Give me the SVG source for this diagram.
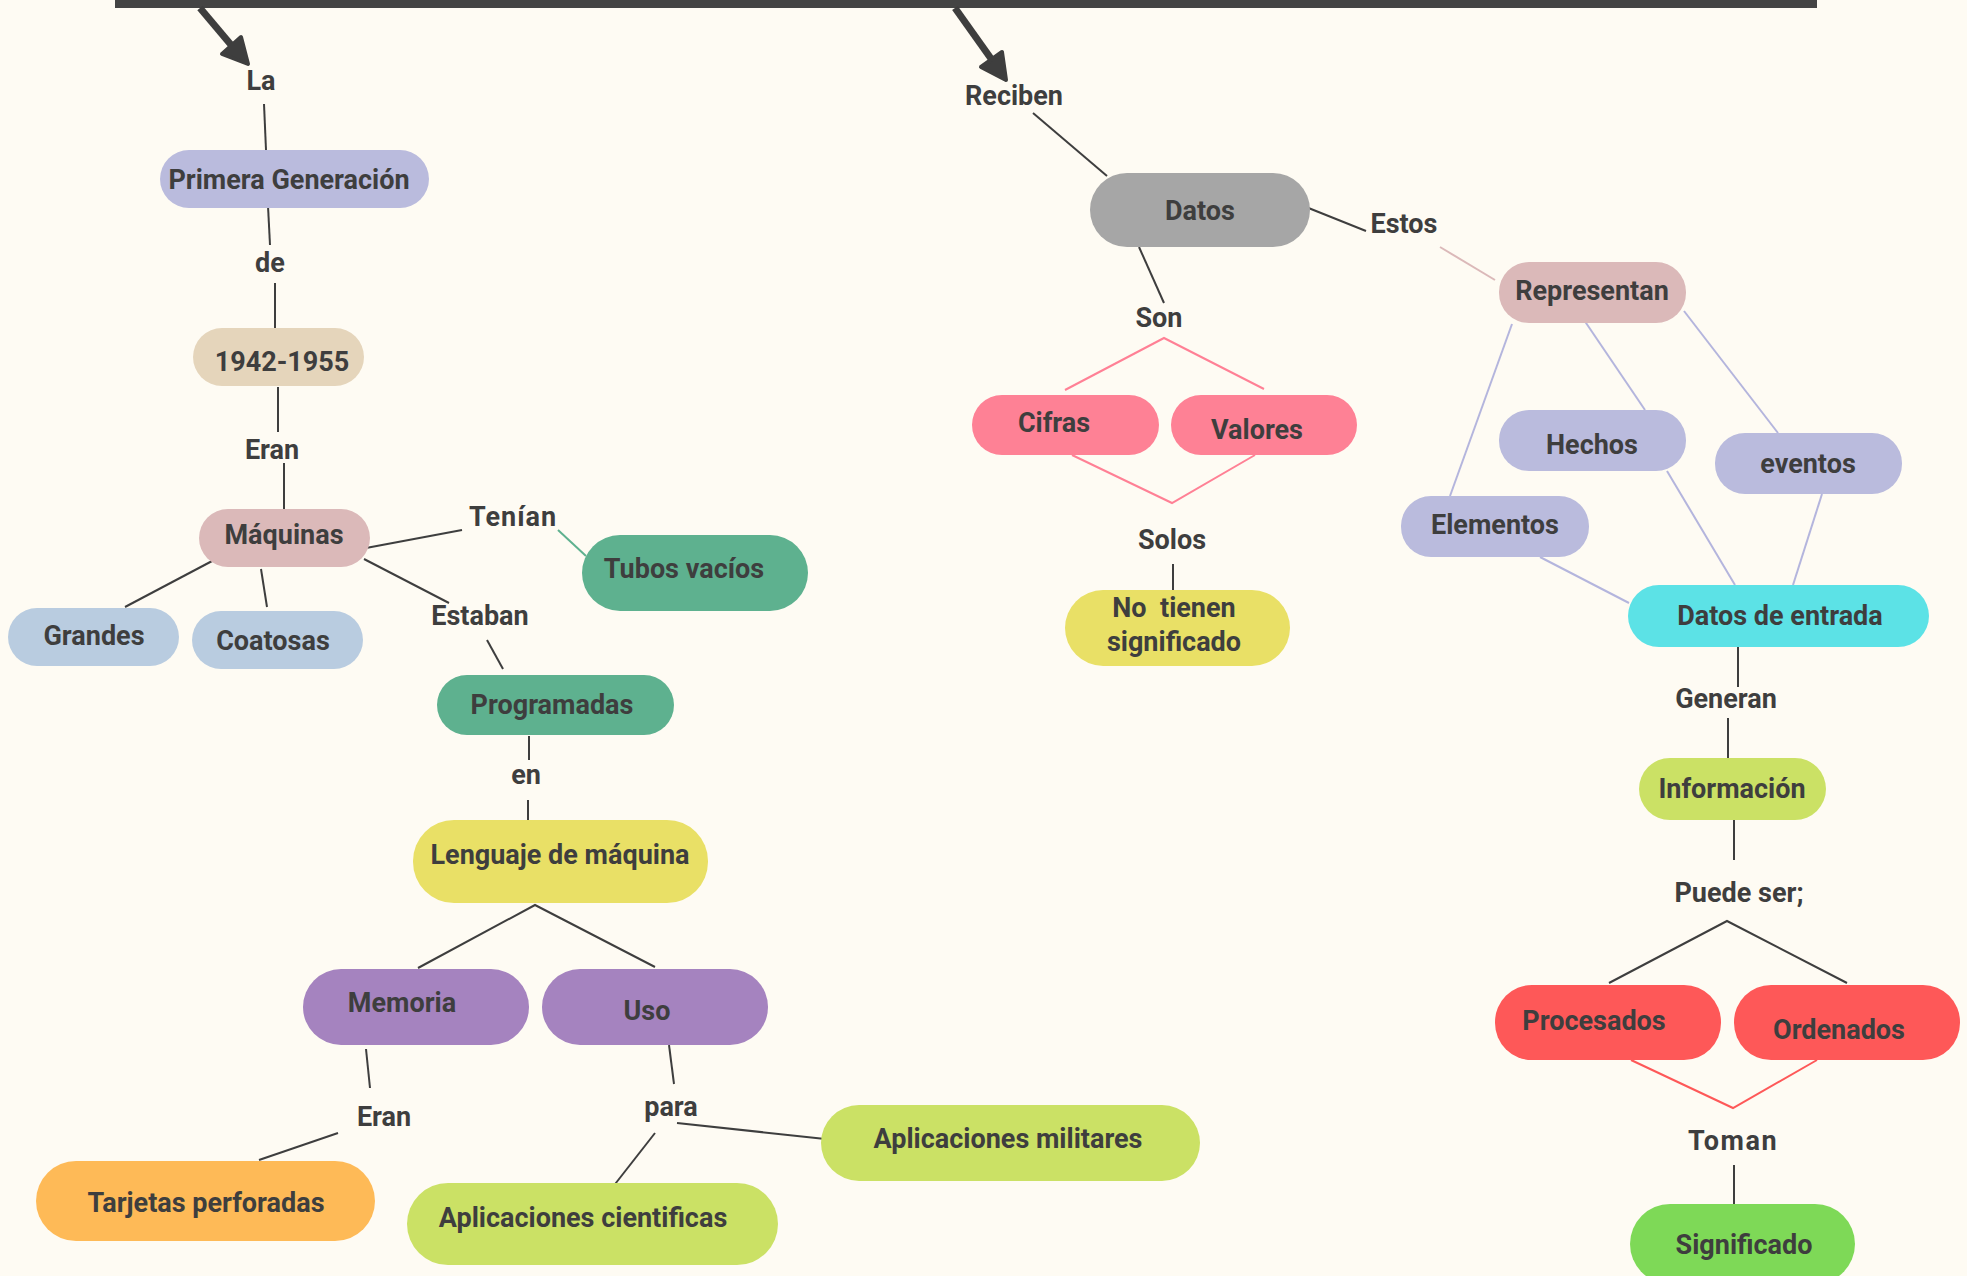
<svg xmlns="http://www.w3.org/2000/svg" width="1967" height="1276" viewBox="0 0 1967 1276">
<style>
text{font-family:Roboto,"Liberation Sans",Arial,sans-serif;font-weight:bold;font-size:27px;fill:#3e3e3e;text-anchor:middle}
.c{stroke:#3e3e3e;stroke-width:2;fill:none}
.lav{stroke:#b4b5dd;stroke-width:2;fill:none}
.pk{stroke:#ff8095;stroke-width:2;fill:none}
.rd{stroke:#fe5858;stroke-width:2;fill:none}
.arrow{stroke:#3e3e3e;stroke-width:7;fill:none}
.head{fill:#3e3e3e;stroke:#3e3e3e;stroke-width:4;stroke-linejoin:round}
</style>
<rect x="0" y="0" width="1967" height="1276" fill="#fefbf3"/>
<g id="connectors">
<rect x="115" y="0" width="1702" height="8" fill="#444"/>
<line class="arrow" x1="200" y1="8" x2="232" y2="46"/>
<polygon class="head" points="241,37 248,64 222,54"/>
<line class="arrow" x1="955" y1="8" x2="992" y2="60"/>
<polygon class="head" points="1002,52 1006,80 981,67"/>
<line class="c" x1="264" y1="104" x2="266" y2="150"/>
<line class="c" x1="268" y1="206" x2="270" y2="245"/>
<line class="c" x1="275" y1="283" x2="275" y2="328"/>
<line class="c" x1="278" y1="387" x2="278" y2="432"/>
<line class="c" x1="284" y1="463" x2="284" y2="509"/>
<line class="c" x1="366" y1="548" x2="462" y2="530"/>
<line x1="558" y1="530" x2="586" y2="556" stroke="#5eb18f" stroke-width="2"/>
<line class="c" x1="214" y1="560" x2="125" y2="607"/>
<line class="c" x1="261" y1="569" x2="267" y2="607"/>
<line class="c" x1="364" y1="559" x2="449" y2="603"/>
<line class="c" x1="487" y1="640" x2="503" y2="669"/>
<line class="c" x1="529" y1="736" x2="529" y2="760"/>
<line class="c" x1="528" y1="800" x2="528" y2="840"/>
<polyline class="c" points="418,968 535,905 655,967"/>
<line class="c" x1="366" y1="1049" x2="370" y2="1088"/>
<line class="c" x1="338" y1="1133" x2="259" y2="1160"/>
<line class="c" x1="669" y1="1045" x2="674" y2="1084"/>
<line class="c" x1="677" y1="1123" x2="844" y2="1141" stroke-width="3"/>
<line class="c" x1="655" y1="1133" x2="612" y2="1188"/>
<line class="c" x1="1033" y1="113" x2="1107" y2="176"/>
<line class="c" x1="1306" y1="207" x2="1366" y2="231"/>
<line x1="1440" y1="247" x2="1495" y2="280" stroke="#dbb9b9" stroke-width="2"/>
<line class="c" x1="1139" y1="247" x2="1164" y2="303"/>
<polyline class="pk" points="1065,390 1164,338 1264,389"/>
<polyline class="pk" points="1072,455 1172,503 1255,455"/>
<line class="c" x1="1173" y1="564" x2="1173" y2="590"/>
<line class="lav" x1="1512" y1="324" x2="1450" y2="496"/>
<line class="lav" x1="1582" y1="317" x2="1645" y2="410"/>
<line class="lav" x1="1684" y1="311" x2="1778" y2="433"/>
<line class="lav" x1="1540" y1="557" x2="1629" y2="603"/>
<line class="lav" x1="1667" y1="471" x2="1735" y2="585"/>
<line class="lav" x1="1822" y1="494" x2="1793" y2="585"/>
<line class="c" x1="1738" y1="647" x2="1738" y2="687"/>
<line class="c" x1="1728" y1="718" x2="1728" y2="758"/>
<line class="c" x1="1734" y1="820" x2="1734" y2="860"/>
<polyline class="c" points="1609,983 1727,921 1847,983"/>
<polyline class="rd" points="1631,1060 1733,1108 1817,1060"/>
<line class="c" x1="1734" y1="1165" x2="1734" y2="1204"/>
</g>
<g id="labels">
<text x="261" y="90">La</text>
<text x="270" y="272">de</text>
<text x="272" y="459">Eran</text>
<text x="513" y="526" letter-spacing="1">Tenían</text>
<text x="480" y="625">Estaban</text>
<text x="526" y="784">en</text>
<text x="384" y="1126">Eran</text>
<text x="671" y="1116">para</text>
<text x="1014" y="105">Reciben</text>
<text x="1404" y="233">Estos</text>
<text x="1159" y="327">Son</text>
<text x="1172" y="549">Solos</text>
<text x="1726" y="708">Generan</text>
<text x="1739" y="902">Puede ser;</text>
<text x="1733" y="1150" letter-spacing="1.5">Toman</text>
</g>
<g id="n-primera"><rect x="160" y="150" width="269" height="58" rx="29" fill="#babbdd"/><text x="289" y="189">Primera Generación</text></g>
<g id="n-1942"><rect x="193" y="328" width="171" height="58" rx="29" fill="#e5d5bb"/><text x="282" y="371">1942-1955</text></g>
<g id="n-maquinas"><rect x="199" y="509" width="171" height="58" rx="29" fill="#dbb9b9"/><text x="284" y="544">Máquinas</text></g>
<g id="n-tubos"><rect x="582" y="535" width="226" height="76" rx="38" fill="#5eb18f"/><text x="684" y="578">Tubos vacíos</text></g>
<g id="n-grandes"><rect x="8" y="608" width="171" height="58" rx="29" fill="#b9cce0"/><text x="94" y="645">Grandes</text></g>
<g id="n-coatosas"><rect x="192" y="611" width="171" height="58" rx="29" fill="#b9cce0"/><text x="273" y="650">Coatosas</text></g>
<g id="n-programadas"><rect x="437" y="675" width="237" height="60" rx="30" fill="#5eb18f"/><text x="552" y="714">Programadas</text></g>
<g id="n-lenguaje"><rect x="413" y="820" width="295" height="83" rx="41" fill="#e9e066"/><text x="560" y="864">Lenguaje de máquina</text></g>
<g id="n-memoria"><rect x="303" y="969" width="226" height="76" rx="38" fill="#a583bf"/><text x="402" y="1012">Memoria</text></g>
<g id="n-uso"><rect x="542" y="969" width="226" height="76" rx="38" fill="#a583bf"/><text x="647" y="1020">Uso</text></g>
<g id="n-tarjetas"><rect x="36" y="1161" width="339" height="80" rx="40" fill="#feba57"/><text x="206" y="1212">Tarjetas perforadas</text></g>
<g id="n-militares"><rect x="821" y="1105" width="379" height="76" rx="38" fill="#cbe165"/><text x="1008" y="1148">Aplicaciones militares</text></g>
<g id="n-cientificas"><rect x="407" y="1183" width="371" height="82" rx="41" fill="#cbe165"/><text x="583" y="1227">Aplicaciones cientificas</text></g>
<g id="n-datos"><rect x="1090" y="173" width="220" height="74" rx="37" fill="#a6a6a6"/><text x="1200" y="220">Datos</text></g>
<g id="n-representan"><rect x="1499" y="262" width="187" height="61" rx="30" fill="#dbb9b9"/><text x="1592" y="300">Representan</text></g>
<g id="n-cifras"><rect x="972" y="395" width="187" height="60" rx="30" fill="#fe8195"/><text x="1054" y="432">Cifras</text></g>
<g id="n-valores"><rect x="1171" y="395" width="186" height="60" rx="30" fill="#fe8195"/><text x="1257" y="439">Valores</text></g>
<g id="n-notienen"><rect x="1065" y="590" width="225" height="76" rx="38" fill="#e9e066"/><text x="1174" y="617" xml:space="preserve">No  tienen</text><text x="1174" y="651">significado</text></g>
<g id="n-hechos"><rect x="1499" y="410" width="187" height="61" rx="30" fill="#babbdd"/><text x="1592" y="454">Hechos</text></g>
<g id="n-eventos"><rect x="1715" y="433" width="187" height="61" rx="30" fill="#babbdd"/><text x="1808" y="473">eventos</text></g>
<g id="n-elementos"><rect x="1401" y="496" width="188" height="61" rx="30" fill="#babbdd"/><text x="1495" y="534">Elementos</text></g>
<g id="n-entrada"><rect x="1628" y="585" width="301" height="62" rx="31" fill="#5ce2e6"/><text x="1780" y="625">Datos de entrada</text></g>
<g id="n-informacion"><rect x="1639" y="758" width="187" height="62" rx="31" fill="#cbe165"/><text x="1732" y="798">Información</text></g>
<g id="n-procesados"><rect x="1495" y="985" width="226" height="75" rx="37" fill="#fe5858"/><text x="1594" y="1030">Procesados</text></g>
<g id="n-ordenados"><rect x="1734" y="985" width="226" height="75" rx="37" fill="#fe5858"/><text x="1839" y="1039">Ordenados</text></g>
<g id="n-significado"><rect x="1630" y="1204" width="225" height="80" rx="40" fill="#7ed957"/><text x="1744" y="1254">Significado</text></g>
</svg>
